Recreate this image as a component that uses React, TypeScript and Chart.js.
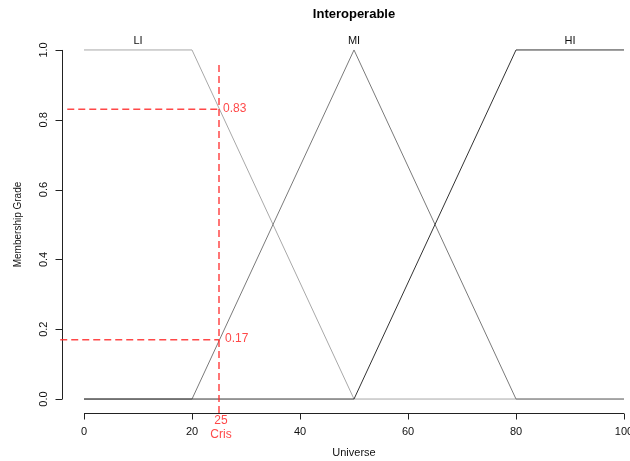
import React, { useEffect, useRef } from "react";
import { Chart, registerables } from "chart.js";

Chart.register(...registerables);

// ---- data ----
const chartTitle = "Interoperable";
const xAxisTitle = "Universe";
const yAxisTitle = "Membership Grade";
const xTicks = [0, 20, 40, 60, 80, 100];
const yTicks = [0, 0.2, 0.4, 0.6, 0.8, 1.0];
const yTickLabels = ["0.0", "0.2", "0.4", "0.6", "0.8", "1.0"];

const liX = [0, 20, 50, 100];
const liY = [1, 1, 0, 0];
const miX = [0, 20, 50, 80, 100];
const miY = [0, 0, 1, 0, 0];
const hiX = [0, 50, 80, 100];
const hiY = [0, 0, 1, 1];

const setNames = ["LI", "MI", "HI"];
const setNameX = [10, 50, 90];

const crispValue = 25;
const crispName = "Cris";
const grades = [0.83, 0.17];
const gradeLabels = ["0.83", "0.17"];
const gradeLineStart = [-3.1, -4.4];
const crispLineRange = [-0.04, 0.965];

const FONT = "'Liberation Sans', Arial, Helvetica, sans-serif";
const RED = "rgba(255,40,40,0.85)";

const zip = (xs: number[], ys: number[]) => xs.map((x, i) => ({ x, y: ys[i] }));

const rAxesPlugin = {
  id: "rAxes",
  beforeDatasetsDraw(chart: any) {
    const ctx = chart.ctx;
    const xs = chart.scales.x;
    const ys = chart.scales.y;
    ctx.save();
    ctx.strokeStyle = "#222";
    ctx.lineWidth = 1;
    // y axis
    const ax = Math.round(xs.getPixelForValue(-4)) + 0.5;
    ctx.beginPath();
    ctx.moveTo(ax, ys.getPixelForValue(yTicks[0]));
    ctx.lineTo(ax, ys.getPixelForValue(yTicks[yTicks.length - 1]));
    yTicks.forEach((t) => {
      const py = Math.round(ys.getPixelForValue(t)) + 0.5;
      ctx.moveTo(ax, py);
      ctx.lineTo(ax - 7, py);
    });
    ctx.stroke();
    // x axis
    const ay = Math.round(ys.getPixelForValue(-0.04)) + 0.5;
    ctx.beginPath();
    ctx.moveTo(xs.getPixelForValue(xTicks[0]), ay);
    ctx.lineTo(xs.getPixelForValue(xTicks[xTicks.length - 1]), ay);
    xTicks.forEach((t) => {
      const px = Math.round(xs.getPixelForValue(t)) + 0.5;
      ctx.moveTo(px, ay);
      ctx.lineTo(px, ay + 6);
    });
    ctx.stroke();

    ctx.fillStyle = "#111";
    ctx.font = `11px ${FONT}`;
    ctx.textAlign = "center";
    ctx.textBaseline = "middle";
    xTicks.forEach((t) => {
      ctx.fillText(String(t), xs.getPixelForValue(t), ay + 18);
    });
    yTicks.forEach((t, i) => {
      ctx.save();
      ctx.translate(ax - 19, ys.getPixelForValue(t));
      ctx.rotate(-Math.PI / 2);
      ctx.fillText(yTickLabels[i], 0, 0);
      ctx.restore();
    });
    // axis titles
    ctx.font = `11px ${FONT}`;
    ctx.fillText(xAxisTitle, (xs.getPixelForValue(-4) + xs.getPixelForValue(104)) / 2, 453);
    ctx.save();
    ctx.translate(18, (ys.top + ys.bottom) / 2);
    ctx.rotate(-Math.PI / 2);
    ctx.font = `10px ${FONT}`;
    ctx.fillText(yAxisTitle, 0, 0);
    ctx.restore();
    // title
    ctx.font = `bold 13px ${FONT}`;
    ctx.fillStyle = "#000";
    ctx.fillText(chartTitle, (xs.getPixelForValue(-4) + xs.getPixelForValue(104)) / 2, 14);
    // set names
    ctx.font = `11px ${FONT}`;
    ctx.fillStyle = "#111";
    setNames.forEach((n, i) => {
      ctx.fillText(n, xs.getPixelForValue(setNameX[i]), ys.getPixelForValue(1) - 9);
    });
    ctx.restore();
  },
  afterDatasetsDraw(chart: any) {
    const ctx = chart.ctx;
    const xs = chart.scales.x;
    const ys = chart.scales.y;
    ctx.save();
    ctx.fillStyle = RED;
    ctx.font = `12px ${FONT}`;
    ctx.textAlign = "left";
    ctx.textBaseline = "middle";
    const cx = xs.getPixelForValue(crispValue);
    grades.forEach((g, i) => {
      ctx.fillText(gradeLabels[i], cx + 4 + i * 2, ys.getPixelForValue(g) - 1);
    });
    ctx.textAlign = "center";
    ctx.fillText(String(crispValue), cx + 2, 421);
    ctx.fillText(crispName, cx + 2, 435);
    ctx.restore();
  },
};

export default function App() {
  const ref = useRef<HTMLCanvasElement>(null);
  useEffect(() => {
    if (!ref.current) return;
    const dashed = {
      borderColor: RED,
      borderWidth: 1.5,
      borderDash: [7, 4],
      pointRadius: 0,
      clip: false as any,
    };
    const chart = new Chart(ref.current, {
      type: "line",
      data: {
        datasets: [
          { ...dashed, data: [{ x: crispValue, y: crispLineRange[0] }, { x: crispValue, y: crispLineRange[1] }] },
          { ...dashed, data: [{ x: gradeLineStart[0], y: grades[0] }, { x: crispValue, y: grades[0] }] },
          { ...dashed, data: [{ x: gradeLineStart[1], y: grades[1] }, { x: crispValue, y: grades[1] }] },
          { label: "HI", data: zip(hiX, hiY), borderColor: "#333", borderWidth: 1, pointRadius: 0 },
          { label: "MI", data: zip(miX, miY), borderColor: "#7a7a7a", borderWidth: 1, pointRadius: 0 },
          { label: "LI", data: zip(liX, liY), borderColor: "#a8a8a8", borderWidth: 1, pointRadius: 0 },
        ] as any,
      },
      options: {
        animation: false,
        responsive: false,
        layout: { padding: { left: 62.4, right: 0, top: 36, bottom: 48 } },
        scales: {
          x: { type: "linear", min: -4, max: 101.11, display: false },
          y: { type: "linear", min: -0.04, max: 1.04, display: false },
        },
        plugins: { legend: { display: false }, tooltip: { enabled: false }, title: { display: false } },
        elements: { line: { tension: 0 } },
      },
      plugins: [rAxesPlugin],
    });
    return () => chart.destroy();
  }, []);
  return (
    <div style={{ position: "fixed", left: 0, top: 0, width: 630, height: 461, background: "#fff" }}>
      <canvas ref={ref} width={630} height={461} />
    </div>
  );
}
